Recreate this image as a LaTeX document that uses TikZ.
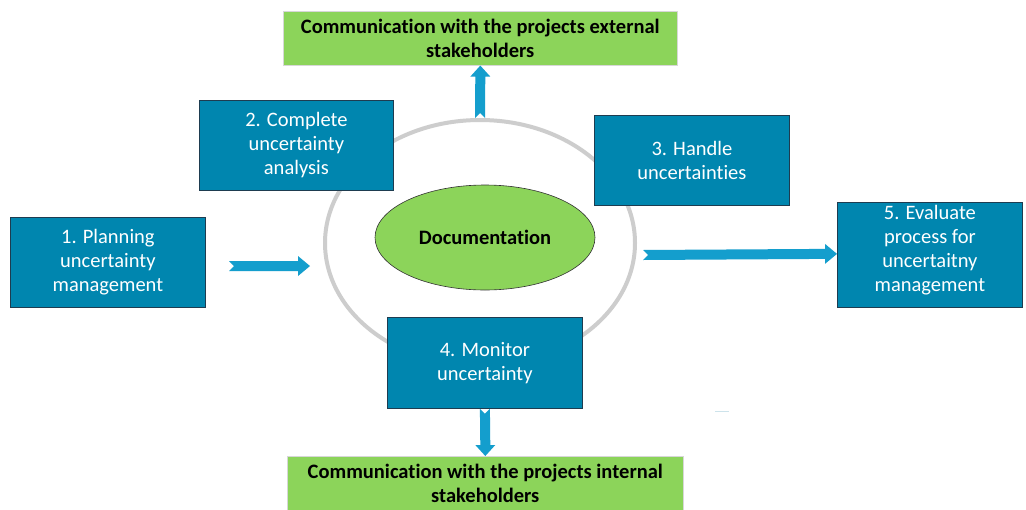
\documentclass[tikz,border=0pt]{standalone}
\usepackage{fontspec}
\setmainfont{Carlito}[Ligatures={NoCommon}]
\usetikzlibrary{calc,shapes.geometric}
\definecolor{boxblue}{RGB}{0,134,175}
\definecolor{boxedge}{RGB}{30,60,80}
\definecolor{greenfill}{RGB}{140,212,90}
\definecolor{arrowblue}{RGB}{20,158,205}
\definecolor{ringgray}{RGB}{205,205,205}
\tikzset{
  stepbox/.style={draw=boxedge, line width=0.8pt, fill=boxblue, inner sep=0pt, anchor=north west},
  commbox/.style={draw=ringgray!80, line width=0.6pt, fill=greenfill, inner sep=0pt, anchor=north west},
  steptext/.style={text=white, font=\fontsize{20.5}{24}\selectfont, align=center},
  commtext/.style={text=black, font=\fontsize{20.5}{24}\selectfont\bfseries, align=center},
}
\newcommand{\rarrow}[2]{%
  \fill[arrowblue] let \p1=(#1), \p2=(#2) in
    (\x1,\y1+5) -- (\x2-12,\y2+5) -- (\x2-12,\y2+10) -- (\x2,\y2) -- (\x2-12,\y2-10) -- (\x2-12,\y2-5) -- (\x1,\y1-5) -- (\x1+5,\y1) -- cycle;}
\newcommand{\uarrow}[2]{%
  \fill[arrowblue] let \p1=(#1), \p2=(#2) in
    (\x1+5,\y1) -- (\x2+5,\y2-11) -- (\x2+10,\y2-11) -- (\x2,\y2) -- (\x2-10,\y2-11) -- (\x2-5,\y2-11) -- (\x1-5,\y1) -- (\x1,\y1+5) -- cycle;}
\newcommand{\darrow}[2]{%
  \fill[arrowblue] let \p1=(#1), \p2=(#2) in
    (\x1+5,\y1) -- (\x2+5,\y2+11) -- (\x2+10,\y2+11) -- (\x2,\y2) -- (\x2-10,\y2+11) -- (\x2-5,\y2+11) -- (\x1-5,\y1) -- (\x1,\y1-5) -- cycle;}
\begin{document}
\begin{tikzpicture}[x=1pt,y=-1pt]
\clip (0,0) rectangle (1026,509);
\fill[white] (0,0) rectangle (1026,509);
% ring
\node[draw=ringgray, line width=4pt, ellipse, minimum width=310, minimum height=246, inner sep=0pt] (ring) at (480,243) {};
% documentation
\node[draw=black!80, line width=0.6pt, fill=greenfill, ellipse, minimum width=220, minimum height=105, inner sep=0pt, font=\fontsize{20.5}{24}\selectfont\bfseries] (doc) at (485,237.5) {Documentation};
% communication boxes
\node[commbox, minimum width=394, minimum height=54] (ext) at (283,11) {};
\node[commtext] (extt) at (ext.center) {Communication with the projects external\\stakeholders};
\node[commbox, minimum width=396, minimum height=60] (int) at (287,456) {};
\node[commtext] (intt) at ($(int.north)+(0,27)$) {Communication with the projects internal\\stakeholders};
% step boxes
\node[stepbox, minimum width=194, minimum height=90] (s2) at (199,100) {};
\node[steptext] (s2t) at (s2.center) {2. Complete\\uncertainty\\analysis};
\node[stepbox, minimum width=195, minimum height=90] (s3) at (594,115) {};
\node[steptext] (s3t) at (s3.center) {3. Handle\\uncertainties};
\node[stepbox, minimum width=195, minimum height=90] (s1) at (10,217) {};
\node[steptext] (s1t) at (s1.center) {1. Planning\\uncertainty\\management};
\node[stepbox, minimum width=185, minimum height=105] (s5) at (837,202) {};
\node[steptext] (s5t) at ($(s5.center)+(0,-5)$) {5. Evaluate\\process for\\uncertaitny\\management};
\node[stepbox, minimum width=195, minimum height=91] (s4) at (387,317) {};
\node[steptext] (s4t) at (s4.center) {4. Monitor\\uncertainty};
% arrows
\coordinate (a1t) at (229,266);
\coordinate (a1h) at (310,266);
\rarrow{a1t}{a1h}
\coordinate (a5t) at (643,255);
\coordinate (a5h) at ($(s5.west)+(0,-1)$);
\rarrow{a5t}{a5h}
\uarrow{ring.north}{ext.south}
\darrow{s4.south}{int.north}
% small dash
\draw[color=ringgray!60!arrowblue!40, line width=1pt] (715,411) -- (729,411);
\end{tikzpicture}
\end{document}
